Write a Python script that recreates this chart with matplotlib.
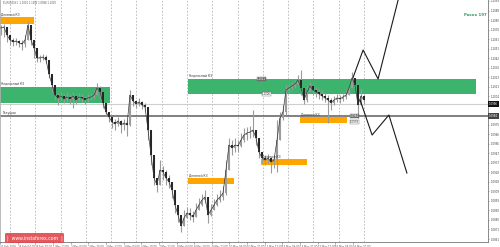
import numpy as np
import matplotlib
matplotlib.use('Agg')
from matplotlib import pyplot as plt
from matplotlib.patches import Rectangle, FancyBboxPatch

# EURUSD H1, one entry per 3 px of chart
closes = [1.1072, 1.1073, 1.1065, 1.1060, 1.1058, 1.1059, 1.1057, 1.1056, 1.1060, 1.1075,
          1.1060, 1.1052, 1.1042, 1.1042, 1.1043, 1.1040, 1.1026, 1.1015, 1.1005, 1.1002,
          1.1004, 1.1001, 1.1003, 1.1001, 1.1004, 1.1000, 1.1003, 1.1002, 1.1000, 1.1002,
          1.1003, 1.1005, 1.1012, 1.1008, 1.0997, 1.0988, 1.0983, 1.0978, 1.0976, 1.0979,
          1.0975, 1.0977, 1.0975, 1.1005, 1.0999, 1.0996, 1.0998, 1.0995, 1.0993, 1.0970,
          1.0945, 1.0922, 1.0915, 1.0930, 1.0928, 1.0922, 1.0918, 1.0910, 1.0895, 1.0885,
          1.0874, 1.0882, 1.0887, 1.0885, 1.0883, 1.0890, 1.0895, 1.0900, 1.0903, 1.0885,
          1.0890, 1.0895, 1.0900, 1.0903, 1.0907, 1.0930, 1.0955, 1.0952, 1.0955, 1.0954,
          1.0960, 1.0965, 1.0967, 1.0968, 1.0970, 1.0962, 1.0948, 1.0942, 1.0940, 1.0942,
          1.0938, 1.0940, 1.0960, 1.0982, 1.0988, 1.1010, 1.1012, 1.1014, 1.1016, 1.1020,
          1.1012, 1.1000, 1.1008, 1.1014, 1.1010, 1.1008, 1.1006, 1.1004, 1.1002, 1.1000,
          1.0997, 1.1000, 1.1002, 1.1001, 1.1003, 1.1005, 1.1012, 1.1022, 1.1015, 1.0995,
          1.1004, 1.1000]
highs = [1.1075, 1.1076, 1.1070, 1.1062, 1.1062, 1.1062, 1.1060, 1.1060, 1.1065, 1.1079,
         1.1068, 1.1060, 1.1048, 1.1045, 1.1046, 1.1045, 1.1032, 1.1022, 1.1010, 1.1007,
         1.1008, 1.1006, 1.1008, 1.1006, 1.1008, 1.1005, 1.1007, 1.1006, 1.1004, 1.1006,
         1.1007, 1.1010, 1.1017, 1.1014, 1.1003, 1.0994, 1.0988, 1.0983, 1.0981, 1.0983,
         1.0980, 1.0981, 1.0980, 1.1010, 1.1004, 1.1000, 1.1002, 1.0999, 1.0997, 1.0985,
         1.0960, 1.0932, 1.0922, 1.0940, 1.0934, 1.0930, 1.0925, 1.0918, 1.0905, 1.0892,
         1.0882, 1.0890, 1.0893, 1.0892, 1.0889, 1.0897, 1.0902, 1.0906, 1.0910, 1.0895,
         1.0896, 1.0901, 1.0906, 1.0910, 1.0914, 1.0940, 1.0962, 1.0960, 1.0962, 1.0960,
         1.0967, 1.0972, 1.0973, 1.0974, 1.0990, 1.0970, 1.0955, 1.0947, 1.0945, 1.0946,
         1.0943, 1.0945, 1.0980, 1.0988, 1.0995, 1.1015, 1.1016, 1.1018, 1.1020, 1.1025,
         1.1030, 1.1007, 1.1014, 1.1018, 1.1015, 1.1013, 1.1011, 1.1010, 1.1007, 1.1005,
         1.1002, 1.1004, 1.1006, 1.1005, 1.1006, 1.1010, 1.1016, 1.1028, 1.1022, 1.1012,
         1.1012, 1.1005]
lows = [1.1065, 1.1063, 1.1058, 1.1055, 1.1054, 1.1055, 1.1053, 1.1050, 1.1053, 1.1065,
        1.1055, 1.1042, 1.1038, 1.1038, 1.1040, 1.1037, 1.1022, 1.1008, 1.1000, 1.0995,
        1.1000, 1.0997, 1.0998, 1.0996, 1.0992, 1.0996, 1.0999, 1.0998, 1.0996, 1.0998,
        1.1000, 1.1001, 1.1005, 1.1002, 1.0992, 1.0984, 1.0978, 1.0972, 1.0970, 1.0974,
        1.0967, 1.0970, 1.0964, 1.0974, 1.0994, 1.0992, 1.0994, 1.0991, 1.0988, 1.0960,
        1.0935, 1.0915, 1.0908, 1.0922, 1.0920, 1.0915, 1.0912, 1.0902, 1.0887, 1.0878,
        1.0868, 1.0874, 1.0882, 1.0880, 1.0878, 1.0885, 1.0890, 1.0894, 1.0897, 1.0877,
        1.0884, 1.0890, 1.0894, 1.0898, 1.0900, 1.0905, 1.0935, 1.0945, 1.0948, 1.0948,
        1.0953, 1.0958, 1.0960, 1.0962, 1.0963, 1.0955, 1.0942, 1.0937, 1.0935, 1.0937,
        1.0927, 1.0932, 1.0928, 1.0975, 1.0980, 1.0985, 1.1007, 1.1010, 1.1012, 1.1015,
        1.1005, 1.0996, 1.0998, 1.1010, 1.1005, 1.1003, 1.1001, 1.1000, 1.0998, 1.0977,
        1.0990, 1.0995, 1.0998, 1.0997, 1.0999, 1.1001, 1.1007, 1.1014, 1.1010, 1.0982,
        1.0998, 1.0996]

# forecast zigzags (bar index, price)
up_path_x = [117.3, 120.7, 125.7, 132.8]
up_path_y = [1.1022, 1.1050, 1.1021, 1.1105]
dn_path_x = [119.7, 123.7, 129.3, 135.3]
dn_path_y = [1.1000, 1.0965, 1.0985, 1.0927]

date_labels = ['26 Feb 2016', '29 Feb 04:00', '29 Feb 20:00', '1 Mar 12:00', '2 Mar 04:00',
               '2 Mar 20:00', '3 Mar 12:00', '4 Mar 04:00', '4 Mar 20:00', '7 Mar 12:00',
               '8 Mar 04:00', '8 Mar 20:00', '9 Mar 12:00', '10 Mar 04:00', '10 Mar 20:00',
               '11 Mar 12:00', '14 Mar 04:00', '14 Mar 20:00', '15 Mar 12:00', '16 Mar 04:00',
               '16 Mar 20:00']

level_main = 1.0984
level_bid = 1.0996

GREEN = '#3cb46e'
ORANGE = '#ffa500'

fig = plt.figure(figsize=(5, 2.47), dpi=100)
ax = fig.add_axes([0, 5/247, 488/500, 242/247])
ax.set_xlim(-1/3, 488/3 - 1/3)
ax.set_ylim(1.0858, 1.1100)

# vertical day grid
for k in range(15):
    ax.axvline(3 + 8.43*k, color='#b4b4b4', lw=0.6, ls=(0, (2, 2)), zorder=0)

# zones
def zone(x0, x1, y0, y1, color, label=None):
    ax.add_patch(Rectangle((x0, y0), x1 - x0, y1 - y0, facecolor=color, edgecolor='none', zorder=1))
    if label:
        ax.text(x0 + 0.3, y1 + 0.0001, label, fontsize=2.2, color='#333333', va='bottom', ha='left', zorder=5)

zone(-0.33, 11.0, 1.1076, 1.1083, ORANGE, 'Дневной КЗ')
zone(-0.33, 36.3, 1.0997, 1.1013, GREEN, 'Недельный КЗ')
zone(62.3, 158.3, 1.1006, 1.1021, GREEN, 'Недельный КЗ')
zone(62.3, 77.7, 1.0916, 1.0922, ORANGE, 'Дневной КЗ')
zone(86.7, 102.0, 1.0935, 1.0941, ORANGE, 'Дневной КЗ')
zone(99.7, 115.3, 1.0977, 1.0983, ORANGE, 'Дневной КЗ')

ax.axhline(level_bid, color='#cfcfcf', lw=0.8, zorder=2)
ax.axhline(level_main, color='#808080', lw=1.4, zorder=2)
ax.text(0.3, level_main + 0.0001, 'Текущая', fontsize=2.2, color='#333333', va='bottom', zorder=5)

# candles
x = np.arange(len(closes))
c = np.array(closes)
o = np.r_[c[0], c[:-1]]
hi = np.maximum(np.array(highs), np.maximum(o, c))
lo = np.minimum(np.array(lows), np.minimum(o, c))
ax.vlines(x, lo, hi, color='#9a9a9a', lw=0.8, zorder=3)
up = c >= o
body = np.where(np.abs(c - o) < 0.00008, 0.00008, c - o)
ax.bar(x[up], body[up], bottom=o[up], width=0.85, color='#9c9c9c', edgecolor='none', zorder=4)
ax.bar(x[~up], body[~up], bottom=o[~up], width=0.85, color='#262626', edgecolor='none', zorder=4)
ax.plot(x, c, color='#3a3a3a', lw=0.5, zorder=4)

# forecast lines
ax.plot(up_path_x, up_path_y, color='#1a1a1a', lw=0.8, zorder=6)
ax.plot(dn_path_x, dn_path_y, color='#1a1a1a', lw=0.8, zorder=6)

# price tags near zones
def tag(xp, yp, s, dark):
    ax.text(xp, yp, s, fontsize=1.9, ha='left', va='center', zorder=7,
            color='white' if dark else '#333333',
            bbox=dict(boxstyle='square,pad=0.15', fc='#6e6e6e' if dark else 'white',
                      ec='#6e6e6e', lw=0.3))

tag(85.3, 1.1021, '1.1021', True)
tag(87.0, 1.1006, '1.1006', False)
tag(116.3, 1.0984, '1.0984', True)
tag(116.3, 1.0978, '1.0978', False)

ax.text(486/3, 1.1085, 'Рисок 197', fontsize=2.8, color='#2e9a58', fontweight='bold',
        ha='right', va='center', zorder=7)

# right price scale
ax.yaxis.tick_right()
ticks = [1.1099 - 0.000952*k for k in range(26)]
labels = ['%.4f' % t for t in ticks]
labels[11] = ''
labels[12] = ''
ax.set_yticks(ticks)
ax.set_yticklabels(labels)
ax.tick_params(axis='y', labelsize=1.9, labelcolor='#444444', length=1.0, width=0.4, pad=0.6, color='#666666')
for yv, fc in [(level_bid, '#111111'), (level_main, '#444444')]:
    ax.text(1.002, yv, '%.4f' % yv, transform=ax.get_yaxis_transform(), fontsize=1.9, color='white',
            ha='left', va='center', zorder=8, clip_on=False,
            bbox=dict(boxstyle='square,pad=0.2', fc=fc, ec='none'))

# bottom time scale
xt = [(17.65*k - 1)/3 for k in range(len(date_labels))]
ax.set_xticks(xt)
ax.set_xticklabels(date_labels, ha='left')
ax.tick_params(axis='x', labelsize=1.9, labelcolor='#555555', length=1.2, width=0.4, pad=0.6, color='#666666')

ax.spines['top'].set_visible(False)
ax.spines['left'].set_color('#b0b0b0')
ax.spines['left'].set_linewidth(0.6)
ax.spines['right'].set_color('#777777')
ax.spines['right'].set_linewidth(0.6)
ax.spines['bottom'].set_color('#777777')
ax.spines['bottom'].set_linewidth(0.6)

ax.text(0.006, 0.994, 'EURUSD,H1  1.1001 1.1003 1.0998 1.1000', transform=ax.transAxes,
        fontsize=1.8, color='#555555', ha='left', va='top')

# watermark
wm = FancyBboxPatch((5/500, 4/247), 59/500, 10/247, boxstyle='round,pad=0,rounding_size=0.004',
                    transform=fig.transFigure, fc='#e0474c', ec='none', alpha=0.9, zorder=10)
fig.patches.append(wm)
fig.text(34.5/500, 9/247, '|  www.instaforex.com  |', color='white', fontsize=3.3,
         ha='center', va='center', zorder=11)

fig.savefig('out.png', dpi=100)
